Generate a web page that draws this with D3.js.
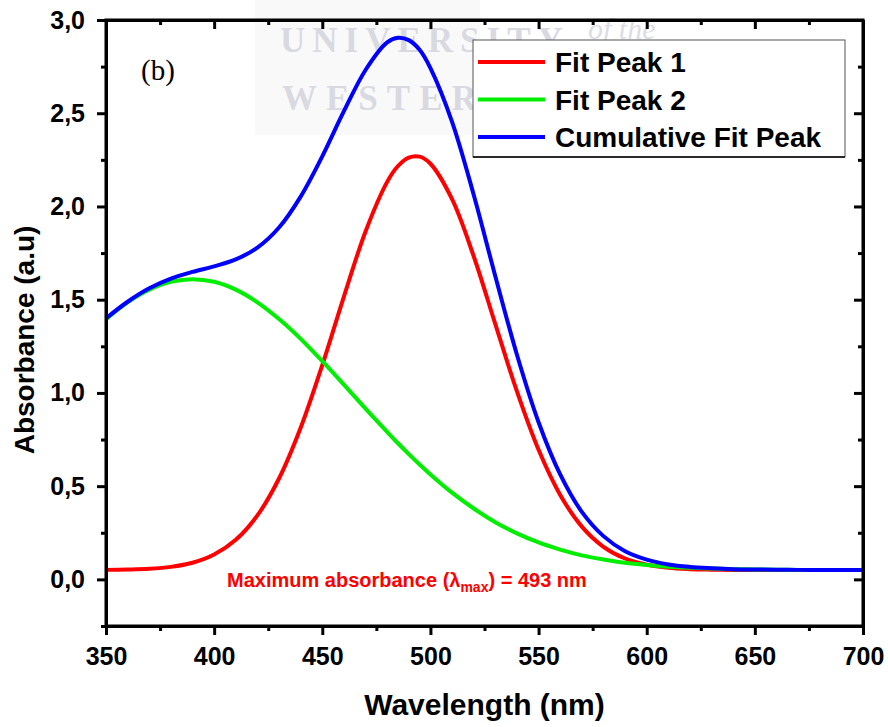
<!DOCTYPE html>
<html><head><meta charset="utf-8">
<script src="https://cdn.jsdelivr.net/npm/d3@7"></script>
<style>
html,body{margin:0;padding:0;background:#fff;}
svg{display:block;}
</style></head>
<body>
<svg id="chart" width="888" height="727" font-family="'Liberation Sans',Arial,sans-serif"></svg>
<script>
// ---- data ----
const wavelength = [350,360,370,380,390,400,410,420,430,440,450,460,470,480,485,490,495,500,510,520,530,540,550,560,570,580,590,600,610,620,630,640,650,660,670,680,690,700];
const fitPeak1   = [0.051,0.053,0.057,0.067,0.089,0.133,0.212,0.343,0.541,0.813,1.149,1.517,1.866,2.132,2.217,2.262,2.267,2.229,2.039,1.733,1.369,1.008,0.695,0.453,0.283,0.175,0.112,0.079,0.062,0.055,0.052,0.050,0.050,0.050,0.050,0.050,0.050,0.050];
const fitPeak2   = [1.396,1.486,1.554,1.596,1.610,1.596,1.554,1.486,1.396,1.290,1.170,1.044,0.916,0.791,0.730,0.672,0.616,0.563,0.465,0.380,0.307,0.247,0.198,0.160,0.129,0.107,0.089,0.077,0.068,0.062,0.058,0.055,0.053,0.052,0.051,0.050,0.050,0.050];
const cumulative = [1.400,1.489,1.561,1.613,1.649,1.679,1.716,1.779,1.887,2.053,2.269,2.511,2.732,2.880,2.905,2.892,2.840,2.742,2.454,2.063,1.626,1.205,0.843,0.563,0.362,0.232,0.151,0.106,0.080,0.067,0.060,0.055,0.053,0.052,0.051,0.050,0.050,0.050];
const seriesNames = ["Fit Peak 1","Fit Peak 2","Cumulative Fit Peak"];
const seriesColors = ["#ff0000","#00ee00","#0000ff"];
const xTicks = [350,400,450,500,550,600,650,700];
const xMinor = [375,425,475,525,575,625,675];
const yTicks = [0,0.5,1.0,1.5,2.0,2.5,3.0];
const yMinor = [-0.25,0.25,0.75,1.25,1.75,2.25,2.75];
const yTickLabels = ["0,0","0,5","1,0","1,5","2,0","2,5","3,0"];

// ---- layout ----
const svg = d3.select("#chart");
const L = 106, R = 863, T = 20, B = 626;
const x = d3.scaleLinear().domain([350,700]).range([L,R]);
const y = d3.scaleLinear().domain([-0.25,3.0]).range([B,T]);
const SERIF = "'Liberation Serif','Times New Roman',serif";

// watermark
const wm = svg.append("g");
wm.append("rect").attr("x",255).attr("y",0).attr("width",225).attr("height",135).attr("fill","#f9f9f9");
wm.append("text").attr("x",280).attr("y",52).attr("font-family",SERIF).attr("font-weight","bold")
  .attr("font-size",35).attr("letter-spacing",7).attr("fill","#d9d9e2").text("UNIVERSITY");
wm.append("text").attr("x",588).attr("y",39).attr("font-family",SERIF)
  .attr("font-style","italic").attr("font-size",30).attr("fill","#dcdce4").text("of the");
wm.append("text").attr("x",282).attr("y",110).attr("font-family",SERIF).attr("font-weight","bold")
  .attr("font-size",35).attr("letter-spacing",9).attr("fill","#d9d9e2").text("WESTERN");

// curves
const line = d3.line().x((d,i)=>x(wavelength[i])).y(d=>y(d)).curve(d3.curveCatmullRom.alpha(0.5));
const series = [fitPeak1, fitPeak2, cumulative];
series.forEach((s,k)=>{
  svg.append("path").datum(s).attr("d",line).attr("fill","none")
    .attr("stroke",seriesColors[k]).attr("stroke-width",4).attr("stroke-linejoin","round");
});

// axes
function styleAxis(g){
  g.attr("font-family",null).attr("font-size",null);
  g.select(".domain").attr("stroke","#000").attr("stroke-width",3);
  g.selectAll(".tick line").attr("stroke","#000").attr("stroke-width",3);
  g.selectAll(".tick text").attr("font-size",25).attr("font-weight","bold").attr("fill","#000");
}
// bottom
svg.append("g").attr("transform",`translate(0,${B})`)
  .call(d3.axisBottom(x).tickValues(xTicks).tickFormat(d3.format("d")).tickSize(9).tickSizeOuter(0).tickPadding(12))
  .call(styleAxis);
svg.append("g").attr("transform",`translate(0,${B})`)
  .call(d3.axisBottom(x).tickValues(xMinor).tickFormat("").tickSize(5).tickSizeOuter(0)).call(styleAxis)
  .select(".domain").remove();
// top (inward)
svg.append("g").attr("transform",`translate(0,${T})`)
  .call(d3.axisBottom(x).tickValues(xTicks).tickFormat("").tickSize(9).tickSizeOuter(0)).call(styleAxis);
svg.append("g").attr("transform",`translate(0,${T})`)
  .call(d3.axisBottom(x).tickValues(xMinor).tickFormat("").tickSize(5).tickSizeOuter(0)).call(styleAxis)
  .select(".domain").remove();
// left
svg.append("g").attr("transform",`translate(${L},0)`)
  .call(d3.axisLeft(y).tickValues(yTicks).tickFormat((d,i)=>yTickLabels[i]).tickSize(9).tickSizeOuter(0).tickPadding(12))
  .call(styleAxis);
svg.append("g").attr("transform",`translate(${L},0)`)
  .call(d3.axisLeft(y).tickValues(yMinor).tickFormat("").tickSize(5).tickSizeOuter(0)).call(styleAxis)
  .select(".domain").remove();
// right (inward)
svg.append("g").attr("transform",`translate(${R},0)`)
  .call(d3.axisLeft(y).tickValues(yTicks).tickFormat("").tickSize(9).tickSizeOuter(0)).call(styleAxis);
svg.append("g").attr("transform",`translate(${R},0)`)
  .call(d3.axisLeft(y).tickValues(yMinor).tickFormat("").tickSize(5).tickSizeOuter(0)).call(styleAxis)
  .select(".domain").remove();
// close the frame corners
svg.append("rect").attr("x",L).attr("y",T).attr("width",R-L).attr("height",B-T)
  .attr("fill","none").attr("stroke","#000").attr("stroke-width",3);

// axis titles
svg.append("text").attr("x",(L+R)/2).attr("y",715).attr("text-anchor","middle")
  .attr("font-size",30).attr("font-weight","bold").text("Wavelength (nm)");
svg.append("text").attr("transform",`translate(34,${(228+452)/2}) rotate(-90)`).attr("text-anchor","middle")
  .attr("font-size",28).attr("font-weight","bold").text("Absorbance (a.u)");

// panel label
svg.append("text").attr("x",141).attr("y",80).attr("font-family",SERIF)
  .attr("font-size",29).text("(b)");

// annotation
const ann = svg.append("text").attr("x",227).attr("y",587).attr("font-size",20).attr("font-weight","bold").attr("fill","#ff0000");
ann.append("tspan").text("Maximum absorbance (λ");
ann.append("tspan").attr("font-size",14).attr("dy",5).text("max");
ann.append("tspan").attr("dy",-5).text(") = 493 nm");

// legend
const lg = svg.append("g");
lg.append("rect").attr("x",473).attr("y",40).attr("width",372).attr("height",117)
  .attr("fill","#fff").attr("stroke","#555").attr("stroke-width",1);
lg.append("line").attr("x1",473).attr("x2",845).attr("y1",157).attr("y2",157).attr("stroke","#000").attr("stroke-width",1.5);
seriesNames.forEach((n,k)=>{
  const yy = 62 + k*37.5;
  lg.append("line").attr("x1",478).attr("x2",545).attr("y1",yy).attr("y2",yy)
    .attr("stroke",seriesColors[k]).attr("stroke-width",4);
  lg.append("text").attr("x",555).attr("y",yy+10).attr("font-size",28).attr("font-weight","bold").text(n);
});
</script>
</body></html>
